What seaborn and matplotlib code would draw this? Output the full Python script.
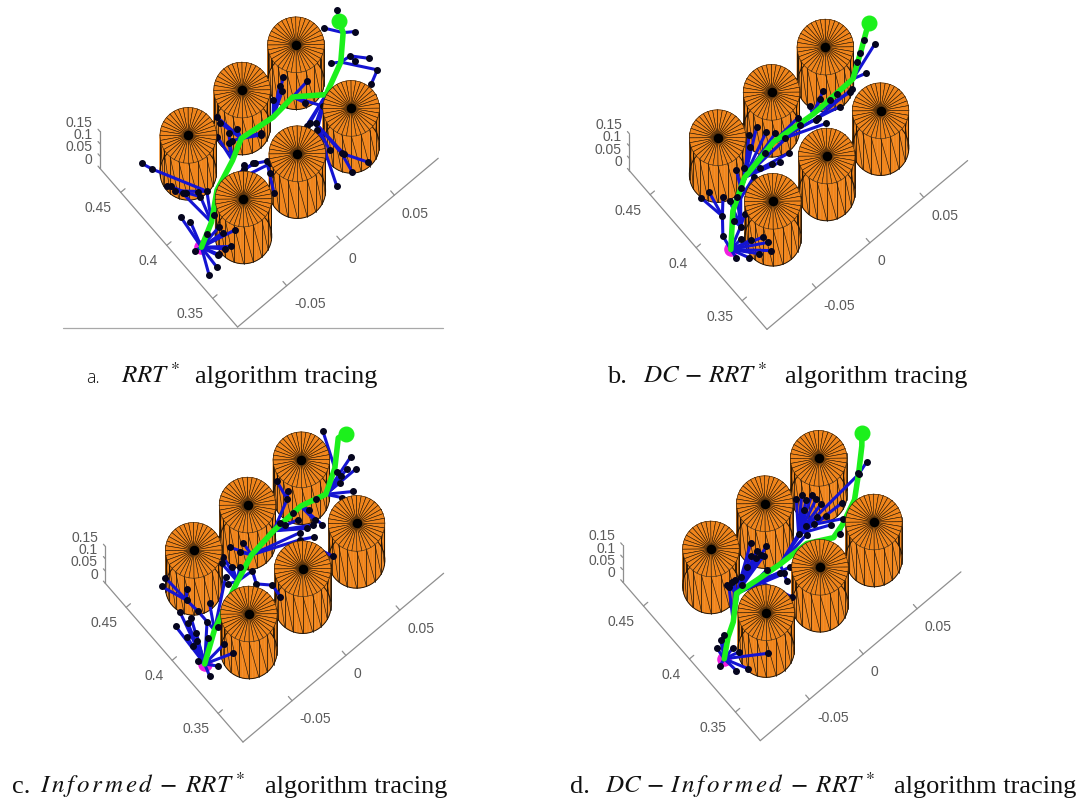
import numpy as np
import seaborn as sns
import matplotlib.pyplot as plt
from matplotlib.lines import Line2D
from mpl_toolkits.mplot3d import proj3d
from mpl_toolkits.mplot3d.art3d import Poly3DCollection

# obstacles (same in every panel)
cyl_x = [0.43, 0.43, 0.43, 0.37, 0.37, 0.37]
cyl_y = [-0.05, 0.0, 0.05, -0.05, 0.0, 0.05]
cyl_r = 0.02
cyl_h = 0.15

x_ticks = [0.35, 0.4, 0.45]
x_labels = ['0.35', '0.4', '0.45']
y_ticks = [-0.05, 0, 0.05]
y_labels = ['-0.05', '0', '0.05']
z_ticks = [0, 0.05, 0.1, 0.15]
z_labels = ['0', '0.05', '0.1', '0.15']

# tree a: RRT*
a_x = [.363, .344, .345, .364, .351, .350, .357, .366, .368, .382, .389, .372, .401, .412, .391, .428, .436, .395, .406,
       .387, .386, .384, .380, .372, .359, .388, .396, .416, .407, .404, .427, .411, .401, .398, .418, .411, .403, .405,
       .389, .378, .334, .350, .335, .333, .400, .404, .379, .374, .399, .389, .394, .415, .410, .426, .430, .423,
       .374, .381, .381, .357, .348, .384, .394, .410, .415, .397, .407, .422, .413, .385, .377, .391, .400, .410,
       .361, .351, .351, .375]
a_y = [-.095, -.104, -.096, -.100, -.090, -.079, -.069, -.076, -.086, -.089, -.092, -.078, -.080, -.085, -.066, -.085,
       -.088, -.071, -.083, -.060, -.036, -.027, -.020, -.024, -.031, -.034, -.038, -.035, -.032, -.023, -.026, -.021,
       .004, -.010, .028, .021, .024, .039, .043, .024, .006, .024, .021, .034, .066, .060, .082, .072, .074, .083,
       .074, .081, .088, .073, .088, .084,
       .022, .021, .018, .019, .025, .036, .028, .012, .022, -.011, -.029, -.027, -.027, -.028, -.019, -.072, -.078,
       -.083, -.077, -.083, -.089, -.073]
a_parent = [-1, 0, 0, 0, 0, 0, 0, 0, 0, 0, 0, 0, 11, 12, 11, 14, 15, 14, 17, 11, 19, 20, 21, 22, 23, 20, 19, 26, 26, 26,
            29, 29, 29, 29, 32, 32, 32, 36, 36, 38, 39, 39, 41, 41, 38, 44, 44, 46, 44, 48, 48, 44, 51, 51, 51, 51,
            38, 38, 38, 39, 39, 36, 36, 32, 32, 29, 29, 29, 26, 19, 19, 11, 71, 72, 0, 0, 0, 0]

# tree b: DC-RRT*
b_x = [.363, .383, .396, .402, .399, .400, .412, .421, .423, .350, .356, .344, .348, .350, .355, .359, .364, .374, .371,
       .385, .405, .404, .395, .377, .404, .401, .388, .391, .400, .389, .418, .417, .411, .410, .399, .388, .407, .405,
       .399, .404, .391, .395, .397, .409, .407, .416, .411, .395, .392,
       .406, .395, .399, .392, .394, .389, .390, .376, .404, .394, .399]
b_y = [-.095, -.076, -.054, -.022, .012, .050, .068, .081, .085, -.089, -.096, -.074, -.082, -.072, -.072, -.080, -.085,
       -.093, -.079, -.084, -.087, -.080, -.075, -.080, -.055, -.050, -.028, -.033, -.032, -.019, -.024, -.032, -.021,
       -.037, -.014, .015, .028, .014, .034, .002, .030, .045, .060, .078, .060, .074, .066, .013, -.061,
       -.017, .011, .000, -.049, -.041, -.067, -.073, -.071, .023, .042, .028]
b_parent = [-1, 0, 1, 2, 3, 4, 5, 6, 7, 0, 0, 0, 0, 0, 0, 0, 0, 0, 0, 17, 19, 19, 19, 18, 48, 2, 2, 2, 2, 2, 2, 2, 2, 2,
            3, 3, 4, 4, 4, 3, 47, 47, 5, 5, 5, 6, 5, 3, 18,
            2, 3, 2, 1, 2, 18, 18, 18, 4, 4, 4]

# tree c: Informed-RRT*
c_x = [.363, .377, .393, .401, .404, .405, .400, .410, .425, .424, .354, .356, .368, .356, .378, .386, .397, .384, .403,
       .394, .385, .394, .395, .406, .425, .428, .412, .377, .396, .403, .413, .415, .408, .411, .392, .383, .375, .365,
       .387, .382, .363, .402, .399, .415, .430, .419, .385, .399, .402, .391, .389, .403, .400, .409, .436, .407,
       .390, .389, .391, .391, .400, .404, .405, .405, .376, .379, .393, .365, .410, .401, .400]
c_y = [-.097, -.076, -.041, -.021, .002, .028, .047, .064, .080, .086, -.100, -.091, -.099, -.077, -.095, -.094, -.095,
       -.087, -.086, -.083, -.076, -.066, -.076, -.077, -.084, -.078, -.072, -.073, -.047, -.037, -.037, -.029, -.026,
       -.020, -.028, -.032, -.024, -.025, .012, .021, .022, .011, .020, .024, .027, .028, .031, .031, .040, .054, .063,
       .064, .075, .078, .075, .063,
       .021, .026, .015, .029, .060, .070, .021, .009, -.083, -.090, -.087, -.077, -.041, -.045, -.033]
c_parent = [-1, 0, 1, 2, 3, 4, 5, 6, 7, 8, 0, 0, 0, 0, 0, 0, 0, 0, 0, 0, 0, 1, 1, 22, 23, 23, 23, 1, 2, 2, 2, 3, 3, 3, 2,
            34, 35, 36, 3, 38, 38, 4, 4, 4, 43, 43, 5, 5, 5, 6, 6, 6, 6, 6, 7, 7,
            4, 4, 3, 5, 6, 6, 4, 4, 0, 0, 0, 0, 2, 1, 2]

# tree d: DC-Informed-RRT*
d_x = [.364, .374, .380, .394, .392, .390, .389, .380, .383, .391, .404, .417, .424, .362, .352, .348, .347, .361, .366,
       .373, .376, .377, .403, .402, .396, .415, .404, .404, .406, .404, .393, .385, .367, .378, .398, .418, .418, .413,
       .409, .404, .396, .388, .395, .386, .394, .403, .406, .404, .379,
       .401, .402, .401, .408, .408, .402, .383, .384, .399, .399, .395, .413, .409]
d_y = [-.094, -.082, -.072, -.057, -.040, -.020, .004, .021, .032, .050, .065, .079, .085, -.100, -.093, -.086, -.068,
       -.083, -.084, -.093, -.087, -.083, -.058, -.054, -.050, -.026, -.030, -.026, -.019, -.039, -.030, -.024, -.029,
       -.024, .004, .019, .024, .029, .030, .030, .017, .026, .042, .035, .008, .064, .074, .064, .026,
       -.058, -.052, -.047, -.026, -.032, -.025, -.022, -.016, .012, .022, .027, .024, .018]
d_parent = [-1, 0, 1, 2, 3, 4, 5, 6, 7, 8, 9, 10, 11, 0, 0, 0, 0, 0, 0, 0, 0, 0, 3, 3, 3, 3, 3, 3, 3, 3, 4, 4, 4, 5, 5,
            34, 34, 34, 34, 34, 34, 34, 40, 40, 5, 34, 45, 45, 8,
            2, 2, 2, 3, 3, 3, 3, 3, 5, 34, 34, 34, 34]

a_goal, b_goal, c_goal, d_goal = 55, 8, 9, 12

W, H = 1086, 801
orange = '#f0851c'
blue = '#1414d2'
green = '#1cf01c'
magenta = '#f01ee0'
axis_grey = '#8f8f8f'
label_grey = '#5a5a5a'
xmin, xmax, ymin, ymax = 0.323, 0.4727, -0.0956, 0.0907

sns.set_theme(style='white')
plt.rcParams['font.family'] = ['Liberation Sans', 'DejaVu Sans']
plt.rcParams['mathtext.fontset'] = 'stix'

fig = plt.figure(figsize=(W / 100, H / 100), dpi=100)


def to_screen(ax, x, y, z):
    px, py, _ = proj3d.proj_transform(x, y, z, ax.get_proj())
    return ax.transData.transform((px, py))


def make_axes(anchor):
    # anchor = pixel of the top centre of the middle front cylinder
    size = 560
    ax = fig.add_axes([0.1, 0.1, size / W, size / H], projection='3d', computed_zorder=False)
    ax.set_proj_type('ortho')
    ax.view_init(elev=80, azim=139.5)
    ax.set_xlim(xmin, xmax)
    ax.set_ylim(ymax, ymin)
    ax.set_zlim(0, 0.15)
    aspect = (xmax - xmin, ymax - ymin, 0.15)
    ax.set_box_aspect(aspect, zoom=1)
    ax.apply_aspect()
    # scale so that 0.1 of x is 140 px
    d = to_screen(ax, 0.35, 0, 0) - to_screen(ax, 0.45, 0, 0)
    ax.set_box_aspect(aspect, zoom=140.4 / np.hypot(*d))
    ax.apply_aspect()
    p = to_screen(ax, 0.37, 0, cyl_h)
    pos = ax.get_position()
    ax.set_position([pos.x0 + (anchor[0] - p[0]) / W, pos.y0 + (H - anchor[1] - p[1]) / H, pos.width, pos.height])
    ax.apply_aspect()
    ax.set_xticks([])
    ax.set_yticks([])
    ax.set_zticks([])
    ax.set_axis_off()
    ax.patch.set_alpha(0)
    return ax


def tick_text(ax, x, y, z, lab, ha):
    # placed at the projected spot of the data point
    sx, sy = to_screen(ax, x, y, z)
    fig.text(sx / W, sy / H, lab, color=label_grey, fontsize=10, ha=ha, va='center')


def draw_axes(ax):
    ax.plot([xmin, xmax], [ymin, ymin], [0, 0], color=axis_grey, lw=0.9, zorder=0)
    ax.plot([xmin, xmin], [ymin, ymax], [0, 0], color=axis_grey, lw=0.9, zorder=0)
    ax.plot([xmax, xmax], [ymin, ymin], [0, 0.15], color=axis_grey, lw=0.9, zorder=0)
    for t, lab in zip(x_ticks, x_labels):
        ax.plot([t, t], [ymin, ymin + 0.004], [0, 0], color=axis_grey, lw=0.9, zorder=0)
        tick_text(ax, t - 0.0047, ymin - 0.01225, 0, lab, 'right')
    for t, lab in zip(y_ticks, y_labels):
        ax.plot([xmin, xmin + 0.004], [t, t], [0, 0], color=axis_grey, lw=0.9, zorder=0)
        tick_text(ax, xmin - 0.0135, t - 0.0045, 0, lab, 'left')
    for t, lab in zip(z_ticks, z_labels):
        ax.plot([xmax, xmax + 0.002], [ymin, ymin], [t, t], color=axis_grey, lw=0.9, zorder=0)
        tick_text(ax, xmax + 0.008, ymin, t, lab, 'right')


def draw_cylinders(ax):
    n_top, n_side = 36, 18
    ang_top = np.linspace(0, 2 * np.pi, n_top + 1)
    ang_side = np.linspace(0, 2 * np.pi, n_side * 3 + 1)
    # back to front
    order = np.argsort(np.array(cyl_x) * -1 - np.array(cyl_y) * 0.8)
    for rank, i in enumerate(order):
        sx = cyl_x[i] + cyl_r * np.cos(ang_side)
        sy = cyl_y[i] + cyl_r * np.sin(ang_side)
        # smooth body, then the sparser triangle lines on it
        body = [[(sx[k], sy[k], 0), (sx[k + 1], sy[k + 1], 0), (sx[k + 1], sy[k + 1], cyl_h), (sx[k], sy[k], cyl_h)]
                for k in range(n_side * 3)]
        ax.add_collection3d(Poly3DCollection(body, facecolor=orange, edgecolor=orange, linewidth=0.3,
                                             zorder=1 + rank * 0.01))
        ax.plot(sx, sy, [0] * len(sx), color='#201408', lw=0.7, zorder=1.001 + rank * 0.01)
        for k in range(0, n_side * 3, 3):
            ax.plot([sx[k], sx[k]], [sy[k], sy[k]], [0, cyl_h], color='#201408', lw=0.55, zorder=1.002 + rank * 0.01)
            ax.plot([sx[k], sx[k + 3]], [sy[k], sy[k + 3]], [0, cyl_h], color='#201408', lw=0.45,
                    zorder=1.002 + rank * 0.01)
        cx = cyl_x[i] + cyl_r * np.cos(ang_top)
        cy = cyl_y[i] + cyl_r * np.sin(ang_top)
        top = [[(cyl_x[i], cyl_y[i], cyl_h), (cx[k], cy[k], cyl_h), (cx[k + 1], cy[k + 1], cyl_h)] for k in range(n_top)]
        ax.add_collection3d(Poly3DCollection(top, facecolor=orange, edgecolor='#2a1a08', linewidth=0.4,
                                             zorder=8 + rank * 0.01))
        ax.plot([cyl_x[i]], [cyl_y[i]], [cyl_h], 'o', color='black', ms=5.8, zorder=9)


def draw_tree(ax, xs, ys, parent, goal):
    # tree drawn on one level
    z = cyl_h
    for i, p in enumerate(parent):
        if p >= 0:
            ax.plot([xs[p], xs[i]], [ys[p], ys[i]], [z, z], color=blue, lw=2.2, zorder=3)
    path = [goal]
    while parent[path[-1]] >= 0:
        path.append(parent[path[-1]])
    ax.plot([xs[i] for i in path], [ys[i] for i in path], [z] * len(path), color=green, lw=4.0,
            solid_capstyle='round', zorder=4)
    rest = [i for i in range(len(xs)) if i not in path]
    ax.plot([xs[i] for i in rest], [ys[i] for i in rest], [z] * len(rest), 'o', color='#05051e', ms=4.0, zorder=5)
    ax.plot([xs[0]], [ys[0]], [z], 'o', color=magenta, ms=9.5, zorder=2.5)
    ax.plot([xs[goal]], [ys[goal]], [z], 'o', color=green, ms=10.5, zorder=4.5)


panels = [
    ((297.3, 153.7), a_x, a_y, a_parent, a_goal),
    ((826.7, 156.0), b_x, b_y, b_parent, b_goal),
    ((302.7, 568.7), c_x, c_y, c_parent, c_goal),
    ((820.0, 567.3), d_x, d_y, d_parent, d_goal),
]
for anchor, xs, ys, parent, goal in panels:
    ax = make_axes(anchor)
    draw_axes(ax)
    draw_cylinders(ax)
    draw_tree(ax, xs, ys, parent, goal)

# stray rule under panel a
fig.add_artist(Line2D([63 / W, 443 / W], [1 - 328 / H, 1 - 328 / H], color='#a8a8a8', lw=0.9))


def caption(x, y, txt, **kw):
    fig.text(x / W, 1 - y / H, txt, color='#111111', va='baseline', **kw)


serif = dict(family='Liberation Serif', fontsize=19)
informed = r'I\hspace{0.15}n\hspace{0.15}f\hspace{0.18}o\hspace{0.15}r\hspace{0.15}m\hspace{0.15}e\hspace{0.15}d'
caption(86, 383, 'a.', family='Open Sans', fontsize=13, fontweight='light')
caption(121, 383, r'$RRT^*$', fontsize=18)
caption(195, 383, 'algorithm tracing', **serif)
caption(607, 383, 'b.', **serif)
caption(643, 383, r'$DC\,-\,RRT^*$', fontsize=18)
caption(785, 383, 'algorithm tracing', **serif)
caption(12, 793, 'c.', **serif)
caption(40, 793, '$' + informed + r'\;-\;RRT^*$', fontsize=18)
caption(265, 793, 'algorithm tracing', **serif)
caption(570, 793, 'd.', **serif)
caption(605, 793, r'$DC\,-\,' + informed + r'\;-\;RRT^*$', fontsize=18)
caption(894, 793, 'algorithm tracing', **serif)

fig.savefig('out.png', dpi=100)
